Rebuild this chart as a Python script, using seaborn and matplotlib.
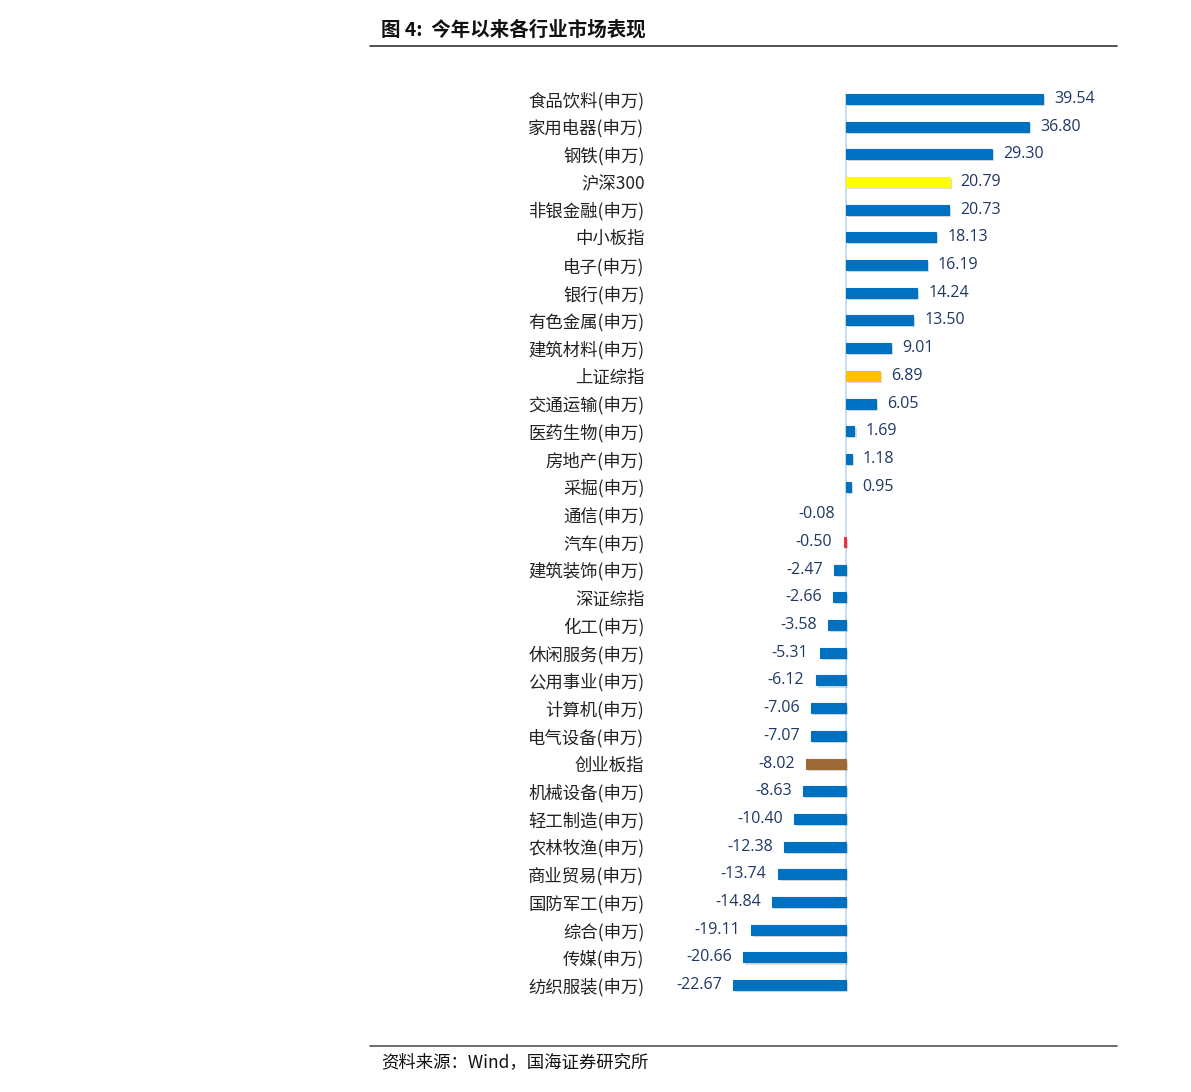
import matplotlib
matplotlib.use('Agg')
import matplotlib.pyplot as plt
import matplotlib.patheffects as pe
import seaborn as sns
import pandas as pd

# data
categories = ['食品饮料(申万)', '家用电器(申万)', '钢铁(申万)', '沪深300', '非银金融(申万)',
              '中小板指', '电子(申万)', '银行(申万)', '有色金属(申万)', '建筑材料(申万)',
              '上证综指', '交通运输(申万)', '医药生物(申万)', '房地产(申万)', '采掘(申万)',
              '通信(申万)', '汽车(申万)', '建筑装饰(申万)', '深证综指', '化工(申万)',
              '休闲服务(申万)', '公用事业(申万)', '计算机(申万)', '电气设备(申万)', '创业板指',
              '机械设备(申万)', '轻工制造(申万)', '农林牧渔(申万)', '商业贸易(申万)', '国防军工(申万)',
              '综合(申万)', '传媒(申万)', '纺织服装(申万)']
returns = [39.54, 36.80, 29.30, 20.79, 20.73,
           18.13, 16.19, 14.24, 13.50, 9.01,
           6.89, 6.05, 1.69, 1.18, 0.95,
           -0.08, -0.50, -2.47, -2.66, -3.58,
           -5.31, -6.12, -7.06, -7.07, -8.02,
           -8.63, -10.40, -12.38, -13.74, -14.84,
           -19.11, -20.66, -22.67]

blue = '#0070C0'
special_colors = {'沪深300': '#FFFF00', '上证综指': '#FFC000', '创业板指': '#9B6A36',
                  '通信(申万)': '#DCE6F2', '汽车(申万)': '#E8323C'}
colors = [special_colors.get(c, blue) for c in categories]

df = pd.DataFrame({'Category': categories, 'Return': returns})

sns.set_style('white')
plt.rcParams['font.family'] = ['Noto Sans CJK SC', 'DejaVu Sans']

fig = plt.figure(figsize=(11.91, 10.92), dpi=100)
ax = fig.add_axes([650 / 1191, 1 - 999 / 1092, 460 / 1191, (999 - 85) / 1092])

sns.barplot(data=df, x='Return', y='Category', hue='Category', palette=colors,
            legend=False, orient='h', width=0.36, ax=ax, saturation=1, linewidth=0)

# soft drop shadow like the original office chart
for p, c in zip(ax.patches, colors):
    p.set_edgecolor(c)
    p.set_linewidth(0.8)
    p.set_path_effects([pe.SimplePatchShadow(offset=(1.5, -1.5), shadow_rgbFace='#9a9a9a', alpha=0.35),
                        pe.Normal()])

ax.set_xlim(-39.36, 53.0)
ax.set_ylim(len(categories) - 0.5, -0.5)
ax.axvline(0, ymin=0.01, ymax=0.99, color='#BDD7EE', lw=1.2, zorder=0.5)

for i, v in enumerate(returns):
    if v >= 0:
        ax.annotate(f'{v:.2f}', (v, i), xytext=(8, 0), textcoords='offset points',
                    ha='left', va='center', fontsize=11.5, color='#1F3864', family='Open Sans')
    else:
        ax.annotate(f'{v:.2f}', (v, i), xytext=(-8, 0), textcoords='offset points',
                    ha='right', va='center', fontsize=11.5, color='#1F3864', family='Open Sans')

ax.set_xlabel('')
ax.set_ylabel('')
ax.set_xticks([])
ax.tick_params(axis='y', length=0, pad=4, labelsize=12.5)
for lab in ax.get_yticklabels():
    lab.set_color('#222222')
for s in ax.spines.values():
    s.set_visible(False)

# title and source with rules
fig.text(381 / 1191, 1 - 30 / 1092, '图 4:  今年以来各行业市场表现', fontsize=14, fontweight='bold',
         ha='left', va='center', color='#111111')
fig.add_artist(plt.Line2D([370 / 1191, 1117 / 1191], [1 - 46 / 1092, 1 - 46 / 1092],
                          color='#333333', lw=1.2))
fig.add_artist(plt.Line2D([370 / 1191, 1117 / 1191], [1 - 1046 / 1092, 1 - 1046 / 1092],
                          color='#555555', lw=1.2))
fig.text(381 / 1191, 1 - 1062 / 1092, '资料来源：Wind，国海证券研究所', fontsize=12.5,
         ha='left', va='center', color='#111111')

fig.savefig('out.png', dpi=100)
